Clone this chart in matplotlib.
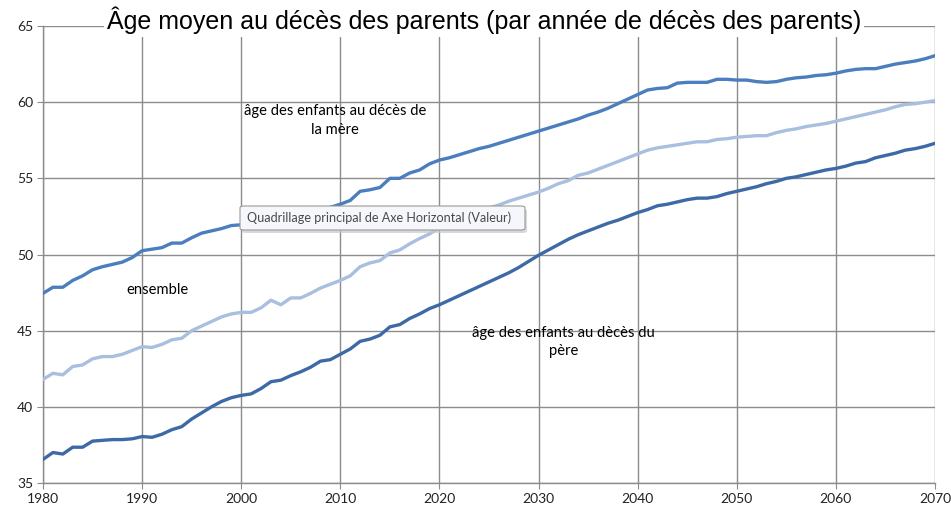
import numpy as np
import matplotlib
matplotlib.use("Agg")
import matplotlib.pyplot as plt
from matplotlib.patches import FancyBboxPatch

# années 1980 -> 2070
years = np.arange(1980, 2071)

# âge des enfants au décès de la mère
age_mere = [
    47.45, 47.85, 47.85, 48.3, 48.6, 49.0, 49.2, 49.35, 49.5, 49.8,
    50.25, 50.35, 50.45, 50.75, 50.75, 51.1, 51.4, 51.55, 51.7, 51.9,
    51.95, 52.1, 52.2, 52.35, 52.5, 52.6, 52.7, 52.8, 53.0, 53.1,
    53.3, 53.55, 54.15, 54.25, 54.4, 55.0, 55.0, 55.35, 55.55, 55.95,
    56.2, 56.35, 56.55, 56.75, 56.95, 57.1, 57.3, 57.5, 57.7, 57.9,
    58.1, 58.3, 58.5, 58.7, 58.9, 59.15, 59.35, 59.6, 59.9, 60.2,
    60.5, 60.8, 60.9, 60.95, 61.25, 61.3, 61.3, 61.3, 61.5, 61.5,
    61.45, 61.45, 61.35, 61.3, 61.35, 61.5, 61.6, 61.65, 61.75, 61.8,
    61.9, 62.05, 62.15, 62.2, 62.2, 62.35, 62.5, 62.6, 62.7, 62.85,
    63.05,
]

# ensemble
age_ensemble = [
    41.8, 42.2, 42.1, 42.65, 42.75, 43.15, 43.3, 43.3, 43.45, 43.7,
    43.95, 43.9, 44.1, 44.4, 44.5, 45.0, 45.3, 45.6, 45.9, 46.1,
    46.2, 46.2, 46.5, 47.0, 46.7, 47.15, 47.15, 47.45, 47.8, 48.05,
    48.3, 48.6, 49.2, 49.45, 49.6, 50.1, 50.3, 50.7, 51.05, 51.35,
    51.75, 52.05, 52.3, 52.6, 52.8, 53.05, 53.25, 53.5, 53.7, 53.9,
    54.1, 54.35, 54.65, 54.85, 55.2, 55.35, 55.6, 55.85, 56.1, 56.35,
    56.6, 56.85, 57.0, 57.1, 57.2, 57.3, 57.4, 57.4, 57.55, 57.6,
    57.7, 57.75, 57.8, 57.8, 58.0, 58.15, 58.25, 58.4, 58.5, 58.6,
    58.75, 58.9, 59.05, 59.2, 59.35, 59.5, 59.7, 59.85, 59.9, 60.0,
    60.1,
]

# âge des enfants au décès du père
age_pere = [
    36.55, 37.0, 36.9, 37.35, 37.35, 37.75, 37.8, 37.85, 37.85, 37.9,
    38.05, 38.0, 38.2, 38.5, 38.7, 39.2, 39.6, 40.0, 40.35, 40.6,
    40.75, 40.85, 41.2, 41.65, 41.75, 42.05, 42.3, 42.6, 43.0, 43.1,
    43.45, 43.8, 44.3, 44.45, 44.7, 45.25, 45.4, 45.8, 46.1, 46.45,
    46.7, 47.0, 47.3, 47.6, 47.9, 48.2, 48.5, 48.8, 49.15, 49.55,
    49.95, 50.3, 50.65, 51.0, 51.3, 51.55, 51.8, 52.05, 52.25, 52.5,
    52.75, 52.95, 53.2, 53.3, 53.45, 53.6, 53.7, 53.7, 53.8, 54.0,
    54.15, 54.3, 54.45, 54.65, 54.8, 55.0, 55.1, 55.25, 55.4, 55.55,
    55.65, 55.8, 56.0, 56.1, 56.35, 56.5, 56.65, 56.85, 56.95, 57.1,
    57.3,
]

x_ticks = list(range(1980, 2071, 10))
y_ticks = list(range(35, 66, 5))

W, H = 951, 508
fig = plt.figure(figsize=(W/100, H/100), dpi=100)
ax = fig.add_axes([43/W, 1-483/H, 892/W, 457/H])

grid_col = '#8c8c8c'
for xv in x_ticks:
    ax.axvline(xv, color=grid_col, lw=1.0, zorder=1)
for yv in y_ticks:
    ax.axhline(yv, color=grid_col, lw=1.0, zorder=1)

ax.plot(years, age_ensemble, color='#a9bfdf', lw=2.4, zorder=3, solid_capstyle='round')
ax.plot(years, age_pere, color='#3d6aa6', lw=2.4, zorder=3, solid_capstyle='round')
ax.plot(years, age_mere, color='#4a7ebe', lw=2.4, zorder=3, solid_capstyle='round')

ax.set_xlim(1980, 2070)
ax.set_ylim(35, 65)
ax.set_xticks(x_ticks)
ax.set_yticks(y_ticks)
for s in ['top', 'right']:
    ax.spines[s].set_visible(False)
for s in ['left', 'bottom']:
    ax.spines[s].set_color(grid_col)
    ax.spines[s].set_linewidth(1.0)
ax.tick_params(direction='out', length=4, color=grid_col, labelsize=10,
               labelcolor='#222222', pad=3)
for lab in ax.get_xticklabels() + ax.get_yticklabels():
    lab.set_family('Lato')

# étiquettes des courbes
ax.text(2009.5, 58.8, "âge des enfants au décès de\nla mère", ha='center', va='center',
        fontsize=10.6, family='Lato', linespacing=1.4, zorder=4)
ax.text(1991.6, 47.7, "ensemble", ha='center', va='center',
        fontsize=10.6, family='Lato', zorder=4)
ax.text(2032.5, 44.25, "âge des enfants au dècès du\npère", ha='center', va='center',
        fontsize=10.6, family='Lato', linespacing=1.4, zorder=4)

# titre, coupe la ligne du haut
fig.text(484/W, 1-20/H,
         "Âge moyen au décès des parents (par année de décès des parents)",
         ha='center', va='center', fontsize=18, family='Liberation Sans',
         bbox=dict(facecolor='white', edgecolor='none', pad=2))

# info-bulle Excel
shadow = FancyBboxPatch((242/W, 1-233/H), 285/W, 24/H, transform=fig.transFigure,
                        boxstyle='round,pad=0,rounding_size=0.004',
                        facecolor='#c8c8c8', edgecolor='none', alpha=0.7, zorder=5)
box = FancyBboxPatch((240/W, 1-230/H), 285/W, 24/H, transform=fig.transFigure,
                     boxstyle='round,pad=0,rounding_size=0.004',
                     facecolor='#f6f7fb', edgecolor='#9a9a9a', lw=0.8, zorder=6)
fig.patches.extend([shadow, box])
fig.text(247/W, 1-218/H, "Quadrillage principal de Axe Horizontal (Valeur)",
         ha='left', va='center', fontsize=9.1, family='Lato', color='#4a4a4a', zorder=7)

fig.savefig('out.png', dpi=100)
